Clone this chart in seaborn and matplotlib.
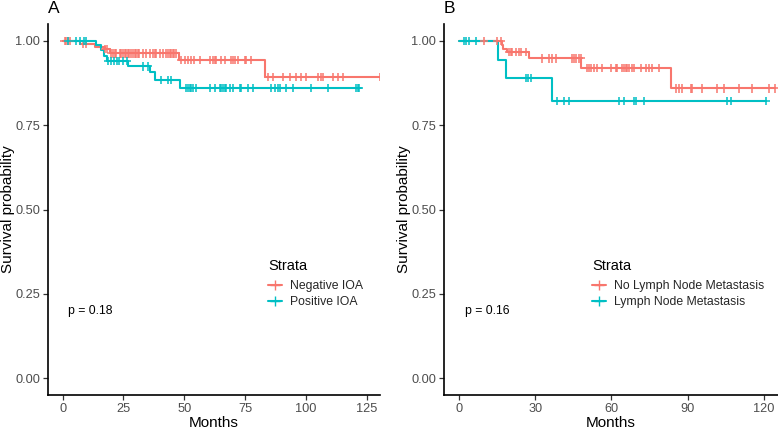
import numpy as np
import pandas as pd
import matplotlib
matplotlib.use('Agg')
import matplotlib.pyplot as plt
from matplotlib.lines import Line2D
from matplotlib.ticker import FormatStrFormatter
import seaborn as sns

sns.set_theme(style='ticks')
plt.rcParams['font.family'] = ['Liberation Sans', 'DejaVu Sans']

RED = '#F8766D'
TEAL = '#00BFC4'

# Panel A: intraoperative assessment (IOA)
a_labels = ['Negative IOA', 'Positive IOA']
a_neg_times = [0, 7.0, 13.2, 17.3, 19.3, 48.0, 83.3]
a_neg_surv = [1.0, 0.991, 0.983, 0.975, 0.963, 0.944, 0.892]
a_neg_end = 130.3
a_neg_censor = [0.8, 1.5, 2.2, 2.9, 8.4, 9.7, 17.5, 18.2,
                19.8, 20.7, 21.4, 22.1, 23.4, 24.1, 24.8, 25.5, 26.2, 26.8,
                27.5, 28.2, 28.9, 29.6, 30.3, 31.0, 31.6, 33.0, 34.4, 35.8,
                37.1, 37.8, 38.5, 39.9, 41.3, 42.6, 43.3, 44.0, 44.7, 45.4,
                46.0, 46.7,
                48.8, 50.2, 51.5, 52.9, 54.2, 56.3, 60.4, 61.8, 62.5, 63.2,
                65.3, 66.6, 69.4, 70.0, 70.7, 72.1, 74.8, 75.5, 77.6,
                84.4, 86.5, 90.6, 93.3, 96.1, 98.1, 100.2, 105.0, 106.4,
                107.0, 111.1, 113.2, 115.3, 130.3]
a_pos_times = [0, 13.8, 15.7, 17.0, 18.3, 26.9, 35.8, 37.8, 48.1]
a_pos_surv = [1.0, 0.988, 0.973, 0.955, 0.941, 0.924, 0.907, 0.884, 0.860]
a_pos_end = 122.0
a_pos_censor = [2.2, 5.6, 7.0, 9.0, 9.7,
                18.8, 20.0, 21.0, 22.5, 23.2, 25.0, 26.3,
                33.0, 35.0, 40.6, 43.3, 44.7,
                50.9, 51.5, 52.2, 52.9, 53.6, 55.0, 60.4, 62.5, 64.6, 65.2,
                65.9, 66.6, 67.3, 68.7, 70.0, 72.8, 73.5, 76.2, 78.3, 85.8,
                87.2, 88.6, 89.2, 92.0, 94.7, 102.3, 109.1, 120.8, 121.4, 122.0]
a_pval = 'p = 0.18'

# Panel B: lymph node metastasis
b_labels = ['No Lymph Node Metastasis', 'Lymph Node Metastasis']
b_no_times = [0, 16.8, 17.4, 18.8, 27.6, 48.0, 83.6]
b_no_surv = [1.0, 0.988, 0.977, 0.966, 0.948, 0.919, 0.859]
b_no_end = 124.4
b_no_censor = [9.8, 15.1, 16.4,
               19.7, 20.4, 21.0, 22.3, 23.6, 24.3, 26.3,
               32.8, 35.4, 36.7, 38.1, 44.6, 45.3, 45.9, 47.2, 47.9,
               50.5, 51.2, 51.9, 53.1, 54.5, 56.4, 59.7, 61.7, 62.3, 64.3,
               65.0, 65.6, 66.3, 66.9, 68.2, 68.9, 71.5, 73.5, 74.8, 76.1, 78.7,
               85.3, 86.6, 87.9, 91.2, 91.8, 95.8, 101.7, 104.3, 110.2,
               115.5, 122.0, 124.4]
b_yes_times = [0, 15.4, 18.4, 36.7]
b_yes_surv = [1.0, 0.944, 0.889, 0.822]
b_yes_end = 120.7
b_yes_censor = [2.0, 2.9, 3.9, 6.8, 26.2, 27.3, 28.2,
                38.7, 41.3, 43.3, 63.0, 65.0, 68.9, 69.6, 72.8,
                105.6, 106.9, 120.7]
b_pval = 'p = 0.16'

W, H = 778, 428


def build_frames(groups):
    """Turn step curves + censor times into dataframes for seaborn"""
    curves, marks = [], []
    for label, times, surv, end, censor in groups:
        t = list(times) + [end]
        s = list(surv) + [surv[-1]]
        curves.append(pd.DataFrame({'time': t, 'surv': s, 'strata': label}))
        idx = np.searchsorted(times, censor, side='right') - 1
        marks.append(pd.DataFrame({'time': censor,
                                   'surv': np.array(surv)[idx],
                                   'strata': label}))
    return pd.concat(curves), pd.concat(marks)


def draw_panel(fig, ax, groups, labels, pval, xticks, xlim, letter, leg_px):
    curves, marks = build_frames(groups)
    pal = dict(zip(labels, [RED, TEAL]))
    sns.lineplot(data=curves, x='time', y='surv', hue='strata',
                 palette=pal, drawstyle='steps-post', estimator=None,
                 linewidth=1.5, legend=False, ax=ax)
    sns.scatterplot(data=marks, x='time', y='surv', hue='strata',
                    palette=pal, marker='+', s=36, linewidth=1.1,
                    legend=False, ax=ax, zorder=3)

    ax.set_xlim(*xlim)
    ax.set_ylim(-0.05, 1.05)
    ax.set_xticks(xticks)
    ax.set_yticks([0, 0.25, 0.5, 0.75, 1.0])
    ax.yaxis.set_major_formatter(FormatStrFormatter('%.2f'))
    ax.set_xlabel('Months', fontsize=11, color='black', labelpad=1)
    ax.set_ylabel('Survival probability', fontsize=11, color='black', labelpad=0.5)
    ax.tick_params(axis='both', labelsize=9.2, labelcolor='#4D4D4D',
                   color='#333333', length=3.5, width=0.9, pad=2)
    for side in ['top', 'right']:
        ax.spines[side].set_visible(False)
    for side in ['left', 'bottom']:
        ax.spines[side].set_linewidth(1.2)
        ax.spines[side].set_color('black')

    ax.text(2.4, 0.2, pval, fontsize=8.8, color='black', ha='left', va='center')

    # legend: title as its own text, entries below it
    lx, ly = leg_px
    fig.text(lx / W, 1 - ly / H, 'Strata', fontsize=10.5, color='black',
             ha='left', va='center')
    handles = [Line2D([], [], color=c, marker='+', markersize=7, linewidth=1.5)
               for c in [RED, TEAL]]
    ax.legend(handles, labels, loc='upper left',
              bbox_to_anchor=(lx / W, 1 - (ly + 14) / H),
              bbox_transform=fig.transFigure, frameon=False,
              fontsize=8.8, handlelength=1.15, handletextpad=0.65,
              labelspacing=0.33, borderpad=0, borderaxespad=0)

    fig.text(ax.get_position().x0, 1 - 1 / H, letter, fontsize=12.5,
             ha='left', va='top', color='black')


fig = plt.figure(figsize=(7.78, 4.28), dpi=100)
ax_a = fig.add_axes([48 / W, 1 - 395 / H, (380 - 48) / W, (395 - 24) / H])
ax_b = fig.add_axes([444 / W, 1 - 395 / H, (778 - 444) / W, (395 - 24) / H])

draw_panel(fig, ax_a,
           [(a_labels[0], a_neg_times, a_neg_surv, a_neg_end, a_neg_censor),
            (a_labels[1], a_pos_times, a_pos_surv, a_pos_end, a_pos_censor)],
           a_labels, a_pval, [0, 25, 50, 75, 100, 125], (-6.0, 130.5), 'A',
           (268, 266))

draw_panel(fig, ax_b,
           [(b_labels[0], b_no_times, b_no_surv, b_no_end, b_no_censor),
            (b_labels[1], b_yes_times, b_yes_surv, b_yes_end, b_yes_censor)],
           b_labels, b_pval, [0, 30, 60, 90, 120], (-5.9, 125.6), 'B',
           (592, 266))

fig.savefig('out.png', dpi=100)
